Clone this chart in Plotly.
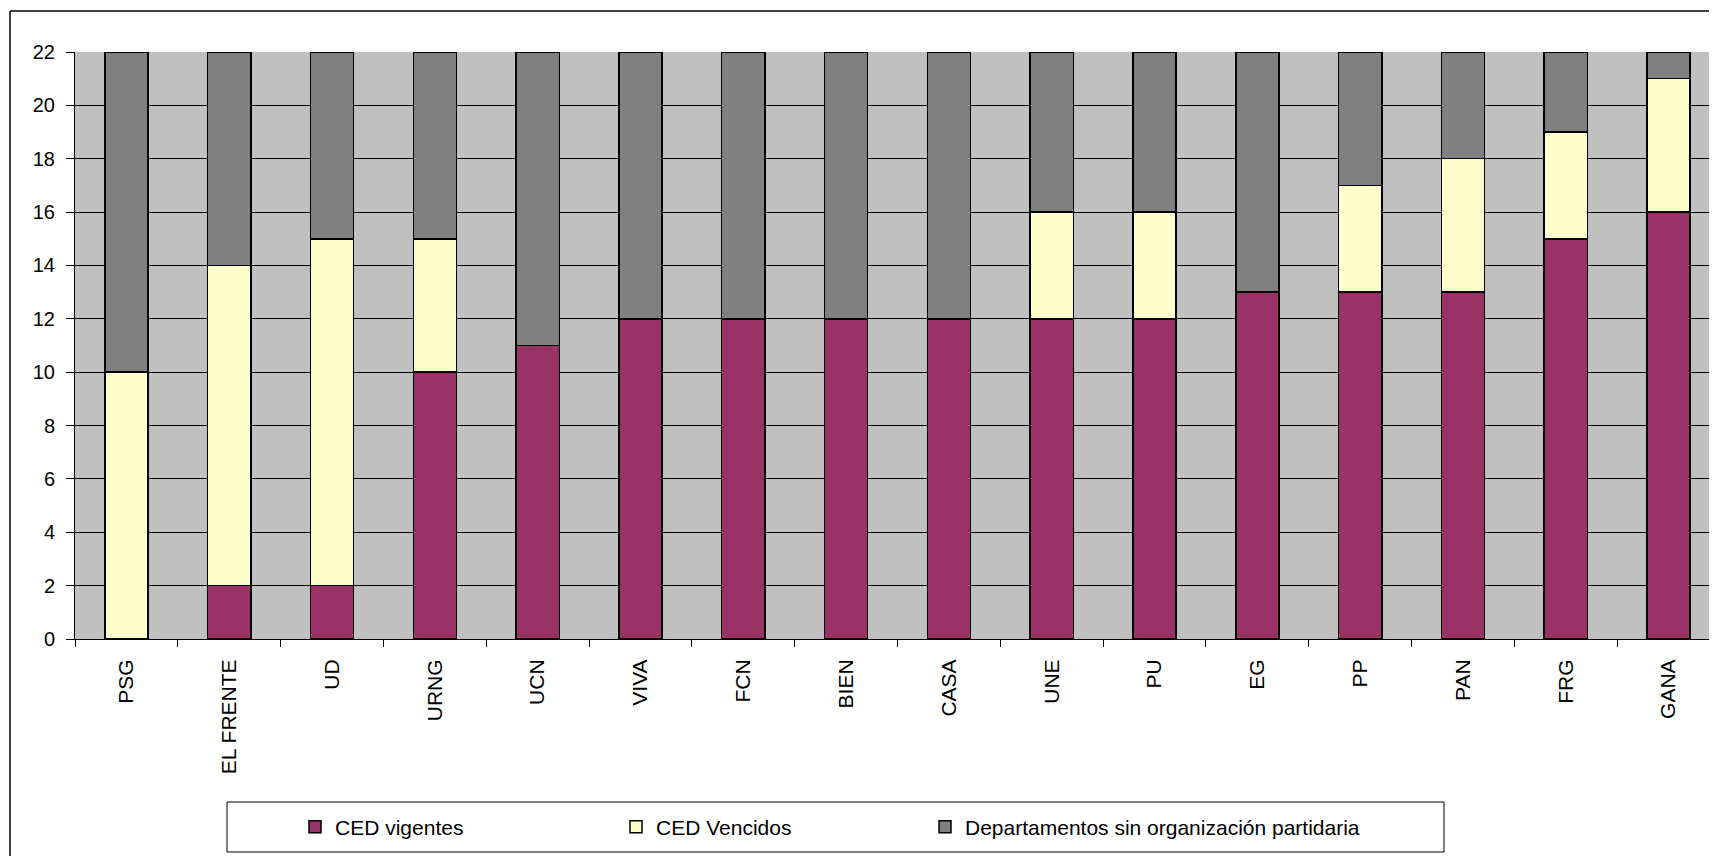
import plotly.graph_objects as go

categories = ["PSG", "EL FRENTE", "UD", "URNG", "UCN", "VIVA", "FCN", "BIEN", "CASA",
              "UNE", "PU", "EG", "PP", "PAN", "FRG", "GANA"]
ced_vigentes = [0, 2, 2, 10, 11, 12, 12, 12, 12, 12, 12, 13, 13, 13, 15, 16]
ced_vencidos = [10, 12, 13, 5, 0, 0, 0, 0, 0, 4, 4, 0, 4, 5, 4, 5]
sin_organizacion = [12, 8, 7, 7, 11, 10, 10, 10, 10, 6, 6, 9, 5, 4, 3, 1]
y_ticks = list(range(0, 23, 2))

FONT = "Liberation Sans, Arial, sans-serif"
OFF = 8  # page body margin
W, H = 1717, 856
L, T = 75 - OFF, 52 - OFF
PLOT_BOTTOM = 639 - OFF
PLOT_RIGHT = 1720 - OFF
R, B = W - PLOT_RIGHT, H - PLOT_BOTTOM
pw, ph = W - L - R, H - T - B


def px_x(p):  # page pixel -> paper x
    return (p - OFF - L) / pw


def px_y(p):  # page pixel -> paper y
    return (PLOT_BOTTOM - (p - OFF)) / ph


fig = go.Figure()
series = [
    ("CED vigentes", ced_vigentes, "#993366", "legend"),
    ("CED Vencidos", ced_vencidos, "#FFFFCC", "legend2"),
    ("Departamentos sin organización partidaria", sin_organizacion, "#808080", "legend3"),
]
for name, vals, col, lg in series:
    fig.add_trace(go.Bar(
        x=categories, y=vals, name=name, width=0.42,
        marker=dict(color=col, line=dict(color="black", width=1.5)),
        legend=lg, showlegend=True,
    ))

leg_common = dict(orientation="h", yanchor="middle", xanchor="left",
                  bgcolor="rgba(0,0,0,0)", borderwidth=0,
                  font=dict(family=FONT, size=21, color="black"))
TEXT_DX = 41 + OFF
fig.update_layout(
    barmode="stack",
    showlegend=True,
    width=W, height=H,
    margin=dict(l=L, r=R, t=T, b=B, pad=0),
    paper_bgcolor="white",
    plot_bgcolor="#C0C0C0",
    font=dict(family=FONT, size=21, color="black"),
    legend=dict(x=px_x(336 - 41), y=px_y(827), **leg_common),
    legend2=dict(x=px_x(657 - 41), y=px_y(827), **leg_common),
    legend3=dict(x=px_x(966 - 41), y=px_y(827), **leg_common),
    xaxis=dict(
        type="category", range=[-0.5, 15.5],
        tickson="boundaries", ticks="outside", ticklen=7, tickcolor="black",
        showline=True, linecolor="black", linewidth=1, showgrid=False,
        tickangle=-90, tickfont=dict(family=FONT, size=21, color="black"),
        ticklabelstandoff=11,
    ),
    yaxis=dict(
        range=[0, 22], tickvals=y_ticks, ticks="outside", ticklen=8,
        tickcolor="black", showline=True, linecolor="black", linewidth=1,
        showgrid=True, gridcolor="black", gridwidth=1, zeroline=False,
        tickfont=dict(family=FONT, size=20, color="black"),
        ticklabelstandoff=7,
    ),
)

# outer chart frame (left and top edges visible)
fig.add_shape(type="line", xref="paper", yref="paper",
              x0=px_x(10), x1=px_x(1740), y0=px_y(11), y1=px_y(11),
              line=dict(color="black", width=1.5))
fig.add_shape(type="line", xref="paper", yref="paper",
              x0=px_x(10), x1=px_x(10), y0=px_y(11), y1=px_y(880),
              line=dict(color="black", width=1.5))
# legend box
fig.add_shape(type="rect", xref="paper", yref="paper",
              x0=px_x(227), x1=px_x(1444), y0=px_y(802), y1=px_y(852),
              line=dict(color="black", width=1), fillcolor="rgba(0,0,0,0)")

fig.write_html("out.html")
